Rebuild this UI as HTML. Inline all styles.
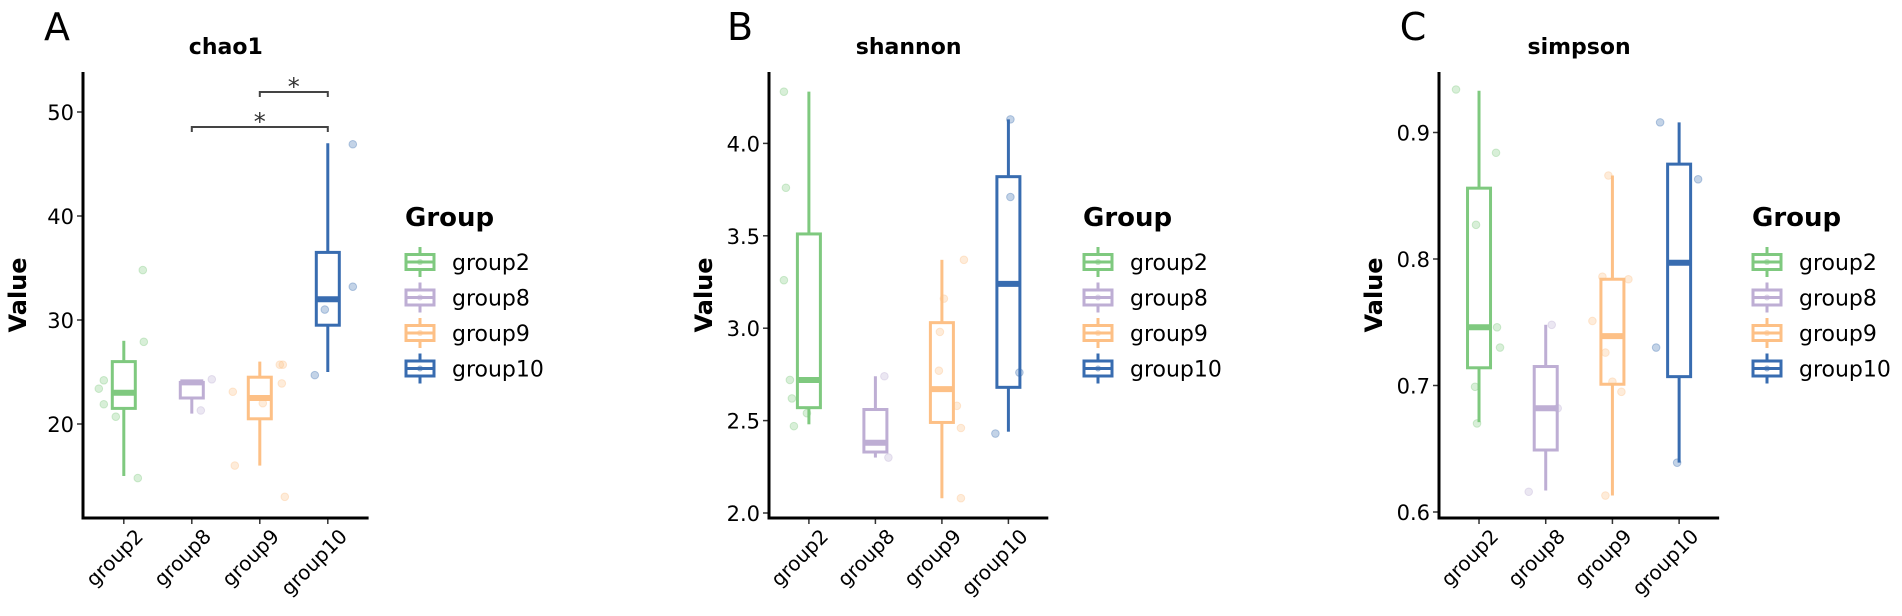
<!DOCTYPE html>
<html><head><meta charset="utf-8"><style>
html,body{margin:0;padding:0;background:#fff;}
svg{display:block;font-family:"DejaVu Sans","Liberation Sans",sans-serif;}
</style></head><body>
<svg id="chart" width="1902" height="616" viewBox="0 0 1902 616" xmlns="http://www.w3.org/2000/svg"></svg>
<script>
const categories = ["group2","group8","group9","group10"];
const colors = ["#7FC97F","#BEAED4","#FDC086","#386CB0"];
// chao1
const chaoQ1 = [21.5,22.5,20.5,29.5];
const chaoMed = [23,24,22.5,32];
const chaoQ3 = [26,24,24.5,36.5];
const chaoLo = [15,21,16,25];
const chaoHi = [28,24.2,26,47];
const chaoTicks = [20,30,40,50];
const chaoPts = [[23.4,24.2,21.9,20.7,14.8,34.8,27.9],[24.3,21.3],[23.1,16,22,25.7,25.7,23.9,13],[24.7,31,46.9,33.2]];
const chaoJit = [[-25,-20,-20,-8,14,19,20],[20,9],[-27,-25,3,20,23,22,25],[-13,-3,25,25]];
// shannon
const shanQ1 = [2.57,2.33,2.49,2.68];
const shanMed = [2.72,2.38,2.67,3.24];
const shanQ3 = [3.51,2.56,3.03,3.82];
const shanLo = [2.48,2.30,2.08,2.44];
const shanHi = [4.28,2.74,3.37,4.13];
const shanTicks = [2.0,2.5,3.0,3.5,4.0];
const shanPts = [[4.28,3.76,3.26,2.72,2.62,2.54,2.47],[2.74,2.30],[3.16,2.98,2.77,3.37,2.58,2.46,2.08],[4.13,3.71,2.76,2.43]];
const shanJit = [[-25,-23,-25,-19,-17,-2,-15],[9,13],[2,-2,-3,22,15,19,19],[2,2,11,-13]];
// simpson
const simQ1 = [0.714,0.649,0.701,0.707];
const simMed = [0.746,0.682,0.739,0.797];
const simQ3 = [0.856,0.715,0.784,0.875];
const simLo = [0.671,0.617,0.613,0.639];
const simHi = [0.933,0.748,0.866,0.908];
const simTicks = [0.6,0.7,0.8,0.9];
const simPts = [[0.934,0.884,0.827,0.746,0.730,0.699,0.670],[0.748,0.682,0.616],[0.866,0.786,0.784,0.751,0.726,0.703,0.695,0.613],[0.908,0.863,0.730,0.639]];
const simJit = [[-23,17,-3,18,21,-4,-2],[6,12,-17],[-4,-10,16,-20,-7,0,9,-7],[-19,19,-23,-2]];

const NS="http://www.w3.org/2000/svg";
const svg=document.getElementById('chart');
function mk(tag,attrs,parent,text){const e=document.createElementNS(NS,tag);for(const k in attrs)e.setAttribute(k,attrs[k]);if(text!==undefined)e.textContent=text;(parent||svg).appendChild(e);return e;}

const panels=[
 {key:"chao1",tag:"A",x0:83,step:68,y0:424,v0:20,k:10.4,ticks:chaoTicks,fmt:v=>String(v),q1:chaoQ1,med:chaoMed,q3:chaoQ3,lo:chaoLo,hi:chaoHi,pts:chaoPts,jit:chaoJit,tagX:57,legX:405},
 {key:"shannon",tag:"B",x0:769,step:66.5,y0:513,v0:2,k:184.8,ticks:shanTicks,fmt:v=>v.toFixed(1),q1:shanQ1,med:shanMed,q3:shanQ3,lo:shanLo,hi:shanHi,pts:shanPts,jit:shanJit,tagX:740,legX:1083},
 {key:"simpson",tag:"C",x0:1439,step:66.7,y0:512,v0:0.6,k:1265,ticks:simTicks,fmt:v=>v.toFixed(1),q1:simQ1,med:simMed,q3:simQ3,lo:simLo,hi:simHi,pts:simPts,jit:simJit,tagX:1413,legX:1752}
];
const TOP=72,BOT=518;

panels.forEach(p=>{
 const g=mk('g',{});
 
 
 const y=v=>p.y0-(v-p.v0)*p.k;
 const x=i=>p.x0+(i+0.6)*p.step;
 const xEnd=p.x0+p.step*4.2;
 const t=mk('text',{x:p.tagX,y:40,'font-size':38,'text-anchor':'middle',fill:'#000'},g,p.tag);
 
 
 const ti=mk('text',{x:(p.x0+xEnd)/2,y:54,'font-size':22,'font-weight':'bold','text-anchor':'middle',fill:'#000'},g,p.key);
 
 
 const yl=mk('text',{x:0,y:0,'font-size':24,'font-weight':'bold','text-anchor':'middle',transform:`translate(${p.x0-57},${(TOP+BOT)/2}) rotate(-90)`,fill:'#000'},g,'Value');
 
 
 p.ticks.forEach(v=>{
  const ln=mk('line',{x1:p.x0-6,x2:p.x0,y1:y(v),y2:y(v),stroke:'#333','stroke-width':1.5},g);
  
  
  const tx=mk('text',{x:p.x0-9,y:y(v)+8,'font-size':21,'text-anchor':'end',fill:'#000'},g,p.fmt(v));
  
  
 });
 categories.forEach((c,i)=>{
  const ln=mk('line',{x1:x(i),x2:x(i),y1:BOT,y2:BOT+6,stroke:'#333','stroke-width':1.5},g);
  
  
  const tx=mk('text',{x:0,y:0,dy:'0.75em','font-size':20,'text-anchor':'end',transform:`translate(${x(i)+10},${BOT+9}) rotate(-45)`,fill:'#000'},g,c);
  
  
 });
 categories.forEach((c,i)=>{
  const col=colors[i],cx=x(i),hw=11.5;
  const bg=mk('g',{},g);
  
  
  mk('line',{x1:cx,x2:cx,y1:y(p.hi[i]),y2:y(p.q3[i]),stroke:col,'stroke-width':3},bg);
  mk('line',{x1:cx,x2:cx,y1:y(p.q1[i]),y2:y(p.lo[i]),stroke:col,'stroke-width':3},bg);
  mk('rect',{x:cx-hw,y:y(p.q3[i]),width:hw*2,height:Math.max(0.5,y(p.q1[i])-y(p.q3[i])),fill:'#fff',stroke:col,'stroke-width':3},bg);
  mk('line',{x1:cx-hw,x2:cx+hw,y1:y(p.med[i]),y2:y(p.med[i]),stroke:col,'stroke-width':6},bg);
  p.pts[i].forEach((v,j)=>{
   const pt=mk('circle',{cx:cx+p.jit[i][j],cy:y(v),r:3.8,fill:col,'fill-opacity':0.3,stroke:col,'stroke-opacity':0.35,'stroke-width':1},g);
   
   
  });
 });
 const ya=mk('line',{x1:p.x0,x2:p.x0,y1:TOP,y2:BOT+1.5,stroke:'#000','stroke-width':3},g);
 
 
 const xa=mk('line',{x1:p.x0-1.5,x2:xEnd,y1:BOT,y2:BOT,stroke:'#000','stroke-width':3},g);
 
 
 const lg=mk('g',{},g);
 
 
 const lt=mk('text',{x:p.legX,y:226,'font-size':26,'font-weight':'bold',fill:'#000'},lg,'Group');
 
 
 categories.forEach((c,i)=>{
  const cy=262+i*35.5,col=colors[i],lx=p.legX+15;
  const e=mk('g',{},lg);
  
  
  mk('line',{x1:lx,x2:lx,y1:cy-15,y2:cy+15,stroke:col,'stroke-width':3},e);
  mk('rect',{x:lx-14,y:cy-7.5,width:28,height:15,fill:'#fff',stroke:col,'stroke-width':3},e);
  mk('line',{x1:lx-14,x2:lx+14,y1:cy,y2:cy,stroke:col,'stroke-width':3},e);
  mk('circle',{cx:lx,cy:cy,r:3,fill:col,'fill-opacity':0.5},e);
  mk('text',{x:p.legX+47,y:cy+8,'font-size':22,fill:'#000'},e,c);
 });
 if(p.key==="chao1"){
  const br=[[2,3,92,'*'],[1,3,127,'*']];
  br.forEach(b=>{
   const bg=mk('g',{},g);
   
   
   const x1=x(b[0]),x2=x(b[1]),yy=b[2];
   mk('path',{d:`M${x1},${yy+5}V${yy}H${x2}V${yy+5}`,fill:'none',stroke:'#444','stroke-width':2},bg);
   mk('text',{x:(x1+x2)/2,y:yy+3,'font-size':24,'text-anchor':'middle',fill:'#333'},bg,b[3]);
  });
 }
});
</script>
</body></html>
